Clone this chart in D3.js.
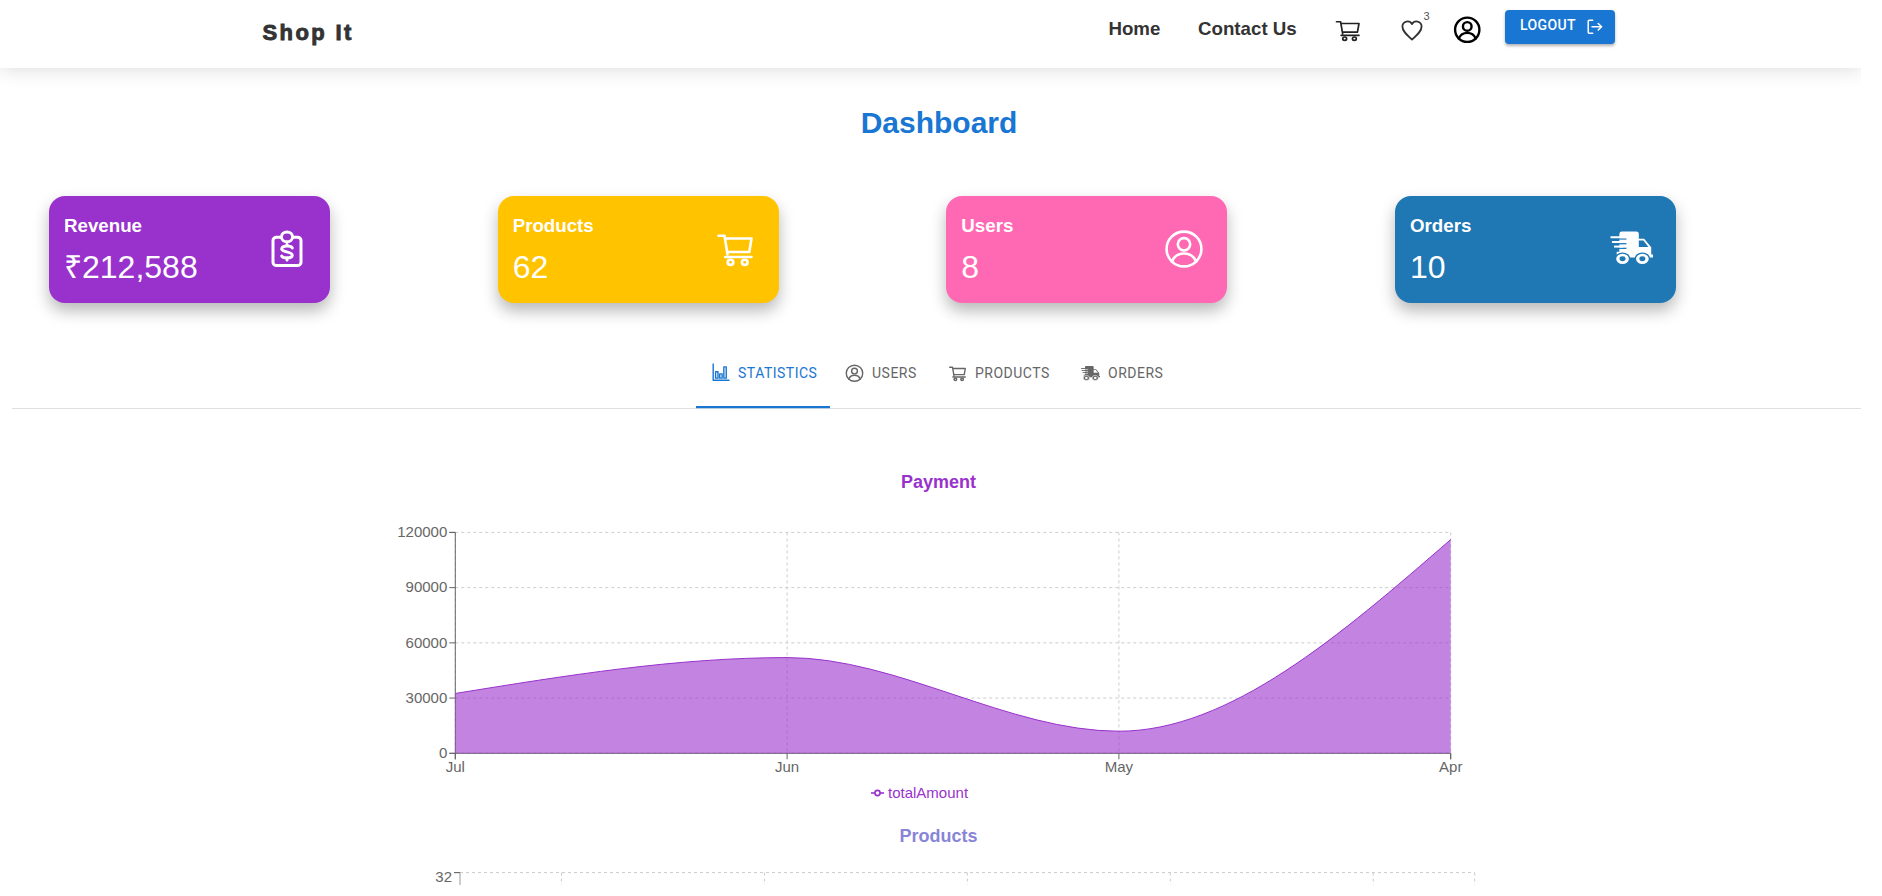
<![CDATA[<!DOCTYPE html>
<html><head><meta charset="utf-8">
<script src="https://cdn.jsdelivr.net/npm/d3@7/dist/d3.min.js"></script>
<style>
html,body{margin:0;padding:0;background:#fff;overflow:hidden}
#page{position:absolute;left:0;top:0;width:1861px;height:885px;overflow:hidden;background:#fff}
#head{position:absolute;left:0;top:0;width:1861px;height:68px;background:#fff;box-shadow:0 0 20px rgba(0,0,0,.16)}
.card{position:absolute;border-radius:16px;box-shadow:0 8px 16px rgba(0,0,0,.28)}
#btn{position:absolute;left:1505px;top:10px;width:110px;height:34px;border-radius:4px;background:#1976d2;box-shadow:0 2px 3px rgba(0,0,0,.3)}
svg{position:absolute;left:0;top:0}
text{font-family:"Liberation Sans",Arial,sans-serif}
.tab{font-family:Roboto,sans-serif;font-size:14px;letter-spacing:.5px;font-weight:400}
</style></head><body><div id="page"></div>
<script>
// ---- data ----
const cardTitles = ["Revenue","Products","Users","Orders"];
const cardValues = ["₹212,588","62","8","10"];
const cardColors = ["#9932CC","#FFC300","#FF69B4","#1F77B4"];
const cardIcons  = ["clip","cart","user","truck"];
const navLinks   = ["Home","Contact Us"];
const tabLabels  = ["STATISTICS","USERS","PRODUCTS","ORDERS"];
const tabIcons   = ["bars","user","cart","truck"];
const months      = ["Jul","Jun","May","Apr"];
const totalAmount = [32500,52000,12000,116088];
const paymentTicks = [0,30000,60000,90000,120000];
const productSlots = ["p1","p2","p3","p4","p5"];
const productTicks = [32];

// ---- icons, drawn in a 24 box ----
const ICONS = {
  cart:(g,c,b)=>{stroke(g,"M1 2H5L7 15.5M5.2 4H23L21.5 13.8H6.8M5.5 17.5H23",c);ring(g,9,21.3,1.9,c);ring(g,18.5,21.3,1.9,c);},
  user:(g,c,b)=>{ring(g,12,12,11,c);ring(g,12,9,3.9,c);stroke(g,"M4.3 20c1.5-3.6 4.7-5.2 7.7-5.2s6.2 1.6 7.7 5.2",c);},
  heart:(g,c,b)=>{stroke(g,"M12 22C5 16 1.5 12.5 1.5 7.8A5.6 5.6 0 0 1 12 5.5 5.6 5.6 0 0 1 22.5 7.8C22.5 12.5 19 16 12 22Z",c);},
  logout:(g,c,b)=>{stroke(g,"M9 2H4a1.5 1.5 0 0 0-1.5 1.5v17A1.5 1.5 0 0 0 4 22h5M8 12h14M17 7l5 5-5 5",c);},
  bars:(g,c,b)=>{stroke(g,"M1 0V23H24M4.5 11h3.5v9h-3.5ZM10.5 14h3.5v6h-3.5ZM16.5 4h3.5v16h-3.5Z",c);},
  clip:(g,c,b)=>{stroke(g,"M8.5 4.5H6a2 2 0 0 0-2 2V21a2 2 0 0 0 2 2H18a2 2 0 0 0 2-2V6.5a2 2 0 0 0-2-2H15.5",c);ring(g,12,4.2,3.2,c);
     stroke(g,"M15 11.4c-.6-1.5-5.6-1.8-6 .6s6 1.7 6 4.2-5.4 2-6 .6M12 9v1.2M12 18v1.4",c);},
  truck:(g,c,b)=>{g.append("path").attr("fill",c).attr("d","M5 1.5a1.5 1.5 0 0 1 1.5-1.5h8a1.5 1.5 0 0 1 1.5 1.5V5h3l4 6v5h1v2H3.5V14H5Z");
     g.append("path").attr("fill",b).attr("d","M16 6.3h2.6l2.8 4.4H16Z");
     [5.2,8.5,11.7].forEach(y=>g.append("path").attr("stroke",b).attr("stroke-width",.9).attr("d",`M0 ${y}H9`));
     [[0,4,9],[0.8,7.3,8],[2,10.5,7]].forEach(([x,y,e])=>g.append("path").attr("stroke",c).attr("stroke-width",1.4).attr("d",`M${x} ${y}H${e}`));
     [6.8,18].forEach(x=>{g.append("circle").attr("cx",x).attr("cy",19).attr("r",4).attr("fill",c).attr("stroke",b).attr("stroke-width",.8);
       g.append("circle").attr("cx",x).attr("cy",19).attr("r",1.7).attr("fill",b);});}
};
function stroke(g,d,c){g.append("path").attr("d",d).attr("fill","none").attr("stroke",c).attr("stroke-linecap","round").attr("stroke-linejoin","round").attr("vector-effect","non-scaling-stroke");}
function ring(g,x,y,r,c){g.append("circle").attr("cx",x).attr("cy",y).attr("r",r).attr("fill","none").attr("stroke",c).attr("vector-effect","non-scaling-stroke");}
function icon(parent,name,x0,y0,x1,y1,c,sw,b){
  const g=parent.append("g").attr("transform",`translate(${x0},${y0}) scale(${(x1-x0)/24},${(y1-y0)/24})`).attr("stroke-width",sw);
  ICONS[name](g,c,b||"#fff");
}

// ---- page frame ----
const page=d3.select("#page");
page.append("div").attr("id","head");
page.append("div").attr("id","btn");
const cardX=d3.scaleLinear().domain([0,3]).range([49,1395]);
page.selectAll(".card").data(cardColors).join("div").attr("class","card")
  .style("left",(d,i)=>cardX(i)+"px").style("top","196px").style("width","281px").style("height","107px").style("background",d=>d);

const svg=page.append("svg").attr("width",1861).attr("height",885);

// ---- navbar ----
svg.append("text").attr("x",262.5).attr("y",39.5).attr("font-size",22).attr("font-weight",700).attr("letter-spacing",2.4).attr("fill","#333").attr("stroke","#333").attr("stroke-width",.9).text("Shop It");
const navX=[1108.4,1198];
svg.selectAll(".nav").data(navLinks).join("text").attr("class","nav").attr("x",(d,i)=>navX[i]).attr("y",35).attr("font-size",18.72).attr("font-weight",700).attr("fill","#333").text(d=>d);
icon(svg,"cart",1335.5,20,1360,41,"#222",1.7);
icon(svg,"heart",1401,19,1423,41.5,"#333",1.8);
svg.append("text").attr("x",1423.5).attr("y",20).attr("font-size",11).attr("fill","#555").text("3");
icon(svg,"user",1454,16.5,1480.5,43,"#000",2.4);
svg.append("text").attr("x",1520).attr("y",30).style("font-family","Roboto").attr("font-size",14).attr("font-weight",500).attr("letter-spacing",.4).attr("fill","#fff").text("LOGOUT");
icon(svg,"logout",1586.5,19,1603,34.5,"#fff",1.5);

// ---- title ----
svg.append("text").attr("x",939).attr("y",132.7).attr("text-anchor","middle").attr("font-size",30).attr("font-weight",700).attr("fill","#1976d2").text("Dashboard");

// ---- cards ----
const iconBox=[[266,230.5,308,267],[717,233,753,266],[1165,230,1203,268],[1610.5,231.5,1653,266]];
const cards=svg.selectAll(".c").data(cardTitles).join("g").attr("class","c");
cards.append("text").attr("x",(d,i)=>cardX(i)+15).attr("y",231.7).attr("font-size",18.72).attr("font-weight",700).attr("fill","#fff").text(d=>d);
cards.append("text").attr("x",(d,i)=>cardX(i)+15).attr("y",277.7).attr("font-size",32).attr("fill","#fff").text((d,i)=>cardValues[i]);
cardIcons.forEach((n,i)=>icon(svg,n,...iconBox[i],"#fff",i==0?3:2.6,cardColors[i]));

// ---- tabs ----
const tabTextX=[738,872,975,1108];
const tabIconBox=[[712.5,364,729,381],[845.5,364.5,863.5,382],[949,366,966,381],[1081,366,1100,381]];
svg.selectAll(".tab").data(tabLabels).join("text").attr("class","tab").attr("x",(d,i)=>tabTextX[i]).attr("y",378).attr("fill",(d,i)=>i==0?"#1976d2":"#666").text(d=>d);
tabIcons.forEach((n,i)=>icon(svg,n,...tabIconBox[i],i==0?"#1976d2":"#666",1.4));
svg.append("rect").attr("x",12).attr("y",408).attr("width",1849).attr("height",1).attr("fill","#e0e0e0");
svg.append("rect").attr("x",696).attr("y",406).attr("width",134).attr("height",2.2).attr("fill","#1976d2");

// ---- Payment chart ----
const purple="#9932CC", axisCol="#666", gridCol="#ccc";
svg.append("text").attr("x",938.5).attr("y",488).attr("text-anchor","middle").attr("font-size",18).attr("font-weight",700).attr("fill",purple).text("Payment");
const x=d3.scalePoint().domain(months).range([455.3,1450.7]);
const y=d3.scaleLinear().domain([0,120000]).range([753.3,532.4]);
const grid=svg.append("g").attr("fill","none").attr("stroke",gridCol).attr("stroke-dasharray","3 3");
grid.selectAll(".h").data(paymentTicks).join("line").attr("x1",x.range()[0]).attr("x2",x.range()[1]).attr("y1",y).attr("y2",y);
grid.selectAll(".v").data(months).join("line").attr("x1",x).attr("x2",x).attr("y1",y.range()[1]).attr("y2",y.range()[0]);
function styleAxis(g){g.selectAll("path,line").attr("stroke",axisCol);g.selectAll("text").attr("fill",axisCol).attr("font-size",15).style("font-family",'"Liberation Sans",Arial,sans-serif');}
svg.append("g").attr("transform",`translate(${x.range()[0]},0)`)
  .call(d3.axisLeft(y).tickValues(paymentTicks).tickFormat(d3.format("d")).tickSizeOuter(0).tickSize(6).tickPadding(2).offset(0)).call(styleAxis);
svg.append("g").attr("transform",`translate(0,${y.range()[0]})`)
  .call(d3.axisBottom(x).tickSizeOuter(0).tickSize(6).tickPadding(2).offset(0)).call(styleAxis);
const series=months.map((m,i)=>({m,v:totalAmount[i]}));
svg.append("path").datum(series).attr("fill",purple).attr("fill-opacity",.6).attr("stroke","none")
  .attr("d",d3.area().x(d=>x(d.m)).y0(y(0)).y1(d=>y(d.v)).curve(d3.curveMonotoneX));
svg.append("path").datum(series).attr("fill","none").attr("stroke",purple).attr("stroke-width",1)
  .attr("d",d3.line().x(d=>x(d.m)).y(d=>y(d.v)).curve(d3.curveMonotoneX));
// legend
svg.append("line").attr("x1",871).attr("x2",884).attr("y1",793).attr("y2",793).attr("stroke",purple).attr("stroke-width",1.6);
svg.append("circle").attr("cx",877.5).attr("cy",793).attr("r",2.6).attr("fill","#fff").attr("stroke",purple).attr("stroke-width",1.6);
svg.append("text").attr("x",888).attr("y",797.5).attr("font-size",15).attr("fill",purple).text("totalAmount");

// ---- Products chart (cut off by the viewport) ----
svg.append("text").attr("x",938.5).attr("y",841.7).attr("text-anchor","middle").attr("font-size",18).attr("font-weight",700).attr("fill","#8884d8").text("Products");
const px=d3.scaleBand().domain(productSlots).range([460,1474.7]);
const py=d3.scaleLinear().domain([0,32]).range([1094,872.6]);
const grid2=svg.append("g").attr("fill","none").attr("stroke",gridCol).attr("stroke-dasharray","3 3");
grid2.selectAll(".h").data(productTicks).join("line").attr("x1",px.range()[0]).attr("x2",px.range()[1]).attr("y1",py).attr("y2",py);
grid2.selectAll(".v").data(productSlots).join("line").attr("x1",d=>px(d)+px.bandwidth()/2).attr("x2",d=>px(d)+px.bandwidth()/2).attr("y1",py(32)).attr("y2",py(0));
grid2.append("line").attr("x1",px.range()[1]).attr("x2",px.range()[1]).attr("y1",py(32)).attr("y2",py(0));
const yAxis2=svg.append("g").attr("transform",`translate(${px.range()[0]},0)`)
  .call(d3.axisLeft(py).tickValues(productTicks).tickFormat(d3.format("d")).tickSizeOuter(0).tickSize(6).tickPadding(2).offset(0)).call(styleAxis);
yAxis2.select(".domain").attr("stroke","#999");
yAxis2.select("text").attr("dy","0.6em");
</script></body></html>]]>
